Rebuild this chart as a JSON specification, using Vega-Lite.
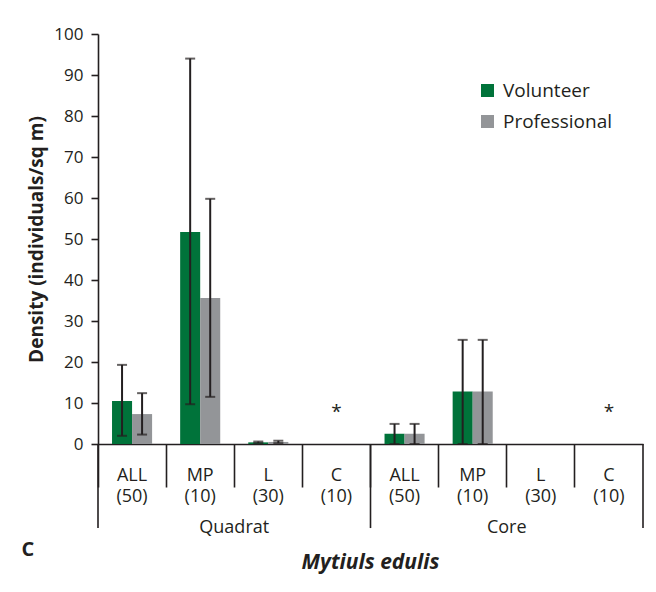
{
  "$schema": "https://vega.github.io/schema/vega-lite/v6.json",
  "width": 545,
  "height": 410,
  "autosize": {"type": "none"},
  "padding": {"left": 98, "top": 34, "right": 13, "bottom": 148},
  "background": "white",
  "title": {
    "text": "Mytiuls edulis",
    "orient": "bottom",
    "anchor": "middle",
    "fontSize": 21,
    "fontWeight": "bold",
    "fontStyle": "italic",
    "color": "#231f20",
    "offset": -7
  },
  "config": {
    "font": "Open Sans",
    "view": {"stroke": null},
    "axis": {
      "domainColor": "#231f20",
      "domainWidth": 1.6,
      "tickColor": "#231f20",
      "tickWidth": 1.6,
      "labelColor": "#231f20",
      "titleColor": "#231f20",
      "grid": false
    },
    "legend": {
      "labelColor": "#231f20"
    }
  },
  "datasets": {
    "density": [
      {"cat": "Quadrat ALL (50)", "observer": "Volunteer", "density": 10.5, "lo": 2.0, "hi": 19.3},
      {"cat": "Quadrat ALL (50)", "observer": "Professional", "density": 7.3, "lo": 2.3, "hi": 12.4},
      {"cat": "Quadrat MP (10)", "observer": "Volunteer", "density": 51.7, "lo": 9.7, "hi": 94.0},
      {"cat": "Quadrat MP (10)", "observer": "Professional", "density": 35.6, "lo": 11.5, "hi": 59.8},
      {"cat": "Quadrat L (30)", "observer": "Volunteer", "density": 0.4, "lo": 0.2, "hi": 0.6},
      {"cat": "Quadrat L (30)", "observer": "Professional", "density": 0.5, "lo": 0.2, "hi": 0.8},
      {"cat": "Core ALL (50)", "observer": "Volunteer", "density": 2.5, "lo": 0, "hi": 4.9},
      {"cat": "Core ALL (50)", "observer": "Professional", "density": 2.5, "lo": 0, "hi": 4.9},
      {"cat": "Core MP (10)", "observer": "Volunteer", "density": 12.8, "lo": 0, "hi": 25.4},
      {"cat": "Core MP (10)", "observer": "Professional", "density": 12.8, "lo": 0, "hi": 25.4}
    ],
    "notes": [
      {"cat": "Quadrat C (10)", "note": "*"},
      {"cat": "Core C (10)", "note": "*"}
    ],
    "groups": [
      {"cat": "Quadrat MP (10)", "label": "Quadrat"},
      {"cat": "Core MP (10)", "label": "Core"}
    ],
    "groupStarts": [
      {"cat": "Quadrat ALL (50)"},
      {"cat": "Core ALL (50)"}
    ],
    "groupEnd": [
      {"cat": "Core C (10)"}
    ]
  },
  "layer": [
    {
      "data": {"name": "density"},
      "mark": {"type": "bar"},
      "encoding": {
        "x": {
          "field": "cat",
          "type": "nominal",
          "sort": ["Quadrat ALL (50)", "Quadrat MP (10)", "Quadrat L (30)", "Quadrat C (10)", "Core ALL (50)", "Core MP (10)", "Core L (30)", "Core C (10)"],
          "scale": {
            "domain": ["Quadrat ALL (50)", "Quadrat MP (10)", "Quadrat L (30)", "Quadrat C (10)", "Core ALL (50)", "Core MP (10)", "Core L (30)", "Core C (10)"],
            "paddingInner": 0,
            "paddingOuter": 0
          },
          "axis": {
            "title": "C",
            "titleFontSize": 20,
            "titleFontWeight": "bold",
            "titleAnchor": "start",
            "titleAlign": "left",
            "titleBaseline": "alphabetic",
            "titleX": -77,
            "titleY": 111,
            "labelAngle": 0,
            "labelFontSize": 18,
            "labelLineHeight": 21,
            "labelExpr": "slice(split(datum.label, ' '), 1)",
            "bandPosition": 0,
            "tickSize": 43,
            "labelPadding": -21
          }
        },
        "xOffset": {
          "field": "observer",
          "type": "nominal",
          "sort": ["Volunteer", "Professional"],
          "scale": {"paddingInner": 0, "paddingOuter": 0.7}
        },
        "y": {
          "field": "density",
          "type": "quantitative",
          "scale": {"domain": [0, 100], "nice": false},
          "axis": {
            "title": "Density (individuals/sq m)",
            "titleFontSize": 19,
            "titleFontWeight": "bold",
            "titlePadding": 7,
            "values": [0, 10, 20, 30, 40, 50, 60, 70, 80, 90, 100],
            "tickSize": 7,
            "labelPadding": 8,
            "labelFontSize": 17
          }
        },
        "color": {
          "field": "observer",
          "type": "nominal",
          "sort": ["Volunteer", "Professional"],
          "scale": {"domain": ["Volunteer", "Professional"], "range": ["#00733a", "#939598"]},
          "legend": {
            "title": null,
            "orient": "none",
            "legendX": 380,
            "legendY": 47,
            "padding": 0,
            "symbolType": "square",
            "symbolSize": 169,
            "symbolStrokeWidth": 0,
            "labelFontSize": 19,
            "labelOffset": 6,
            "rowPadding": 11
          }
        }
      }
    },
    {
      "data": {"name": "density"},
      "mark": {"type": "rule", "color": "#231f20", "strokeWidth": 2},
      "encoding": {
        "x": {"field": "cat", "type": "nominal"},
        "xOffset": {"field": "observer", "type": "nominal", "sort": ["Volunteer", "Professional"]},
        "y": {"field": "lo", "type": "quantitative", "scale": {"domain": [0, 100], "nice": false}},
        "y2": {"field": "hi"}
      }
    },
    {
      "data": {"name": "density"},
      "mark": {"type": "tick", "color": "#231f20", "size": 10, "thickness": 2},
      "encoding": {
        "x": {"field": "cat", "type": "nominal"},
        "xOffset": {"field": "observer", "type": "nominal", "sort": ["Volunteer", "Professional"]},
        "y": {"field": "hi", "type": "quantitative", "scale": {"domain": [0, 100], "nice": false}}
      }
    },
    {
      "data": {"name": "density"},
      "mark": {"type": "tick", "color": "#231f20", "size": 10, "thickness": 2},
      "encoding": {
        "x": {"field": "cat", "type": "nominal"},
        "xOffset": {"field": "observer", "type": "nominal", "sort": ["Volunteer", "Professional"]},
        "y": {"field": "lo", "type": "quantitative", "scale": {"domain": [0, 100], "nice": false}}
      }
    },
    {
      "data": {"name": "notes"},
      "mark": {"type": "text", "fontSize": 19, "color": "#231f20", "baseline": "alphabetic"},
      "encoding": {
        "x": {"field": "cat", "type": "nominal"},
        "y": {"datum": 6.3, "type": "quantitative", "scale": {"domain": [0, 100], "nice": false}},
        "text": {"field": "note"}
      }
    },
    {
      "data": {"name": "groupStarts"},
      "mark": {"type": "rule", "color": "#231f20", "strokeWidth": 1.6},
      "encoding": {
        "x": {"field": "cat", "type": "nominal", "bandPosition": 0},
        "y": {"datum": 0, "type": "quantitative", "scale": {"domain": [0, 100], "nice": false}},
        "y2": {"datum": -20.5}
      }
    },
    {
      "data": {"name": "groupEnd"},
      "mark": {"type": "rule", "color": "#231f20", "strokeWidth": 1.6},
      "encoding": {
        "x": {"field": "cat", "type": "nominal", "bandPosition": 1},
        "y": {"datum": 0, "type": "quantitative", "scale": {"domain": [0, 100], "nice": false}},
        "y2": {"datum": -20.5}
      }
    },
    {
      "data": {"name": "groups"},
      "mark": {"type": "text", "fontSize": 18, "color": "#231f20", "baseline": "alphabetic", "align": "center"},
      "encoding": {
        "x": {"field": "cat", "type": "nominal", "bandPosition": 1},
        "y": {"datum": -21.6, "type": "quantitative", "scale": {"domain": [0, 100], "nice": false}},
        "text": {"field": "label"}
      }
    }
  ]
}
